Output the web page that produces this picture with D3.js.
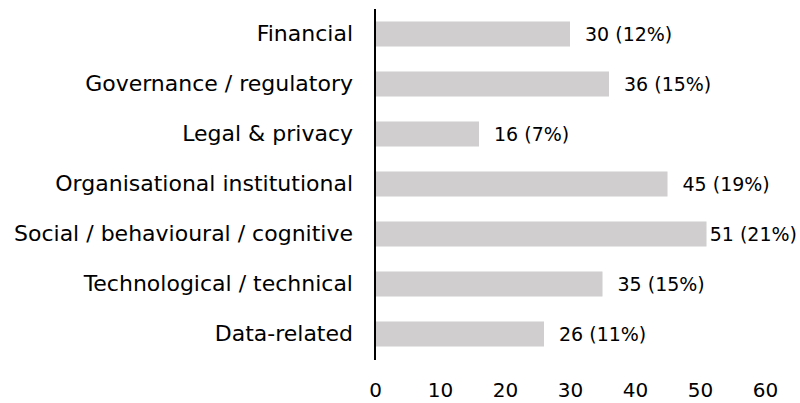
<!DOCTYPE html>
<html>
<head>
<meta charset="utf-8">
<script src="https://cdn.jsdelivr.net/npm/d3@7"></script>
<style>
  body { margin: 0; background: #fff; }
  svg text { font-family: "DejaVu Sans", sans-serif; fill: #000; }
</style>
</head>
<body>
<svg class="chart"></svg>
<script>
var categories = ["Financial", "Governance / regulatory", "Legal & privacy",
  "Organisational institutional", "Social / behavioural / cognitive",
  "Technological / technical", "Data-related"];
var counts = [30, 36, 16, 45, 51, 35, 26];
var shares = ["12%", "15%", "7%", "19%", "21%", "15%", "11%"];
var ticks = [0, 10, 20, 30, 40, 50, 60];

var svg = d3.select(".chart")
  .attr("width", 800)
  .attr("height", 403);

var x = d3.scaleLinear().domain([0, 60]).range([375, 765]);
var y = d3.scaleBand().domain(categories).range([9, 359])
  .paddingInner(0.5).paddingOuter(0.25);

// bars
svg.selectAll("rect.bar")
  .data(counts)
  .enter().append("rect")
  .attr("class", "bar")
  .attr("x", x(0))
  .attr("y", function(d, i) { return y(categories[i]); })
  .attr("width", function(d) { return x(d) - x(0); })
  .attr("height", y.bandwidth())
  .attr("fill", "#d0cece");

// value labels, kept inside the picture like excel does
svg.selectAll("text.val")
  .data(counts)
  .enter().append("text")
  .attr("class", "val")
  .attr("y", function(d, i) { return y(categories[i]) + y.bandwidth() / 2; })
  .attr("dy", "0.35em")
  .style("font-size", "19px")
  .text(function(d, i) { return d + " (" + shares[i] + ")"; })
  .attr("x", function(d) {
    var w = this.getComputedTextLength();
    return Math.min(x(d) + 15, 797 - w);
  });

// category axis
var yAxis = svg.append("g")
  .attr("transform", "translate(" + x(0) + ",0)")
  .call(d3.axisLeft(y).tickSize(0).tickPadding(22));
yAxis.select(".domain").attr("stroke", "#000").attr("stroke-width", 2).attr("d", "M0,9V360");
yAxis.selectAll("text").style("font-size", "22px").attr("fill", "#000");

// value axis, labels only
var xAxis = svg.append("g")
  .attr("transform", "translate(0,383)")
  .call(d3.axisBottom(x).tickValues(ticks).tickSize(0).tickPadding(0));
xAxis.select(".domain").remove();
xAxis.selectAll("text").style("font-size", "20px").attr("fill", "#000");
</script>
</body>
</html>
